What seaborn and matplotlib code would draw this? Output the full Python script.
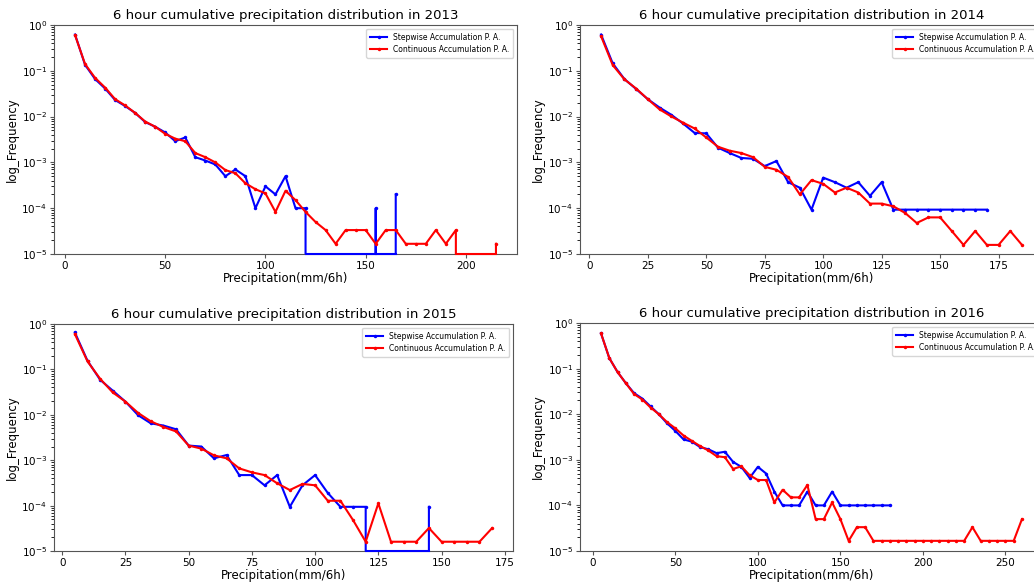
import numpy as np
import matplotlib
matplotlib.use("Agg")
import matplotlib.pyplot as plt
import seaborn as sns

YMIN, YMAX = 1e-5, 1.0

years = [2013, 2014, 2015, 2016]

# Stepwise accumulation (blue) frequencies, bins every 5 mm starting at 5
step_2013 = [0.62, 0.135, 0.066, 0.041, 0.023, 0.017, 0.012, 0.0076, 0.006, 0.0045,
             0.0029, 0.0035, 0.0013, 0.0011, 0.0009, 0.0005, 0.0007, 0.0005, 0.0001, 0.0003,
             0.0002, 0.0005, 0.0001, 0.0001, 0, 0, 0, 0, 0, 0, 0.0001, 0, 0.0002]
cont_2013 = [0.6, 0.14, 0.07, 0.043, 0.024, 0.0175, 0.012, 0.0078, 0.006, 0.0042,
             0.0033, 0.0029, 0.0016, 0.0013, 0.001, 0.00068, 0.00058, 0.00035, 0.00026, 0.00021,
             8.3e-5, 0.00024, 0.00015, 8.3e-5, 5e-5, 3.33e-5, 1.67e-5, 3.33e-5, 3.33e-5, 3.33e-5,
             1.67e-5, 3.33e-5, 3.33e-5, 1.67e-5, 1.67e-5, 1.67e-5, 3.33e-5, 1.67e-5, 3.33e-5,
             0, 0, 0, 1.67e-5]

step_2014 = [0.62, 0.145, 0.066, 0.04, 0.024, 0.0158, 0.011, 0.0071, 0.0044, 0.0043,
             0.0021, 0.0016, 0.00125, 0.0012, 0.00083, 0.00107, 0.00037, 0.00028, 9.3e-5, 0.000465,
             0.00037, 0.00028, 0.00037, 0.000186, 0.00037, 9.3e-5] + [9.3e-5] * 8
cont_2014 = [0.57, 0.133, 0.065, 0.041, 0.024, 0.0144, 0.0101, 0.0074, 0.0055, 0.0035,
             0.0022, 0.0018, 0.0016, 0.0013, 0.0008, 0.00069, 0.00048, 0.0002, 0.00041, 0.00034,
             0.00022, 0.00028, 0.00022, 0.000126, 0.000126, 0.00011, 7.9e-5, 4.75e-5, 6.3e-5, 6.3e-5,
             3.17e-5, 1.58e-5, 3.17e-5, 1.58e-5, 1.58e-5, 3.17e-5, 1.58e-5]

step_2015 = [0.65, 0.155, 0.059, 0.034, 0.0195, 0.0098, 0.0065, 0.0058, 0.0048, 0.0021,
             0.002, 0.0011, 0.0013, 0.00047, 0.00047, 0.00028, 0.00047, 9.4e-5, 0.00028, 0.00047,
             0.00019, 9.4e-5, 9.4e-5, 9.4e-5, 0, 0, 0, 0, 9.4e-5]
cont_2015 = [0.6, 0.15, 0.062, 0.031, 0.0195, 0.011, 0.0072, 0.0054, 0.0043, 0.0021,
             0.0018, 0.00128, 0.0011, 0.00066, 0.00054, 0.00047, 0.00031, 0.00022, 0.0003, 0.00028,
             0.000128, 0.000128, 4.8e-5, 1.6e-5, 1.12e-4, 1.6e-5, 1.6e-5, 1.6e-5, 3.2e-5, 1.6e-5,
             1.6e-5, 1.6e-5, 1.6e-5, 3.2e-5]

step_2016 = [0.59, 0.17, 0.084, 0.048, 0.029, 0.022, 0.0148, 0.01, 0.0063, 0.0043,
             0.0028, 0.0025, 0.0019, 0.0017, 0.0014, 0.0015, 0.0009, 0.0007, 0.0004, 0.0007,
             0.0005, 0.0002, 0.0001, 0.0001, 0.0001, 0.0002, 0.0001, 0.0001, 0.0002] + [0.0001] * 7
cont_2016 = [0.59, 0.17, 0.084, 0.048, 0.0277, 0.021, 0.014, 0.01, 0.0067, 0.0049,
             0.0034, 0.0026, 0.002, 0.0016, 0.0012, 0.00114, 0.00063, 0.00072, 0.00046, 0.00036,
             0.00036, 0.000116, 0.00022, 0.00015, 0.00015, 0.00028, 5e-5, 5e-5, 0.000116, 5e-5,
             1.67e-5, 3.33e-5, 3.33e-5] + [1.67e-5] * 12 + [3.33e-5] + [1.67e-5] * 5 + [5e-5]

step_series = [step_2013, step_2014, step_2015, step_2016]
cont_series = [cont_2013, cont_2014, cont_2015, cont_2016]

BIN = 5
xlabel = "Precipitation(mm/6h)"
ylabel = "log_Frequency"
label_step = "Stepwise Accumulation P. A."
label_cont = "Continuous Accumulation P. A."

W, H = 1034, 583
fig = plt.figure(figsize=(W / 100, H / 100), dpi=100)

# axes rectangles in pixels: left, top, width, height
rects = [(54, 25, 463, 229), (580, 25, 463, 229),
         (54, 324, 459, 227), (580, 323, 463, 228)]


def bins(n):
    return np.arange(1, n + 1) * BIN


def zero_runs(x, y):
    """Return (x_start, x_end) of runs of zero values, bounded by the neighbouring nonzero bins."""
    runs = []
    i = 0
    n = len(y)
    while i < n:
        if y[i] <= 0:
            j = i
            while j < n and y[j] <= 0:
                j += 1
            a = x[i - 1] if i > 0 else x[i]
            b = x[j] if j < n else x[j - 1]
            runs.append((a, b))
            i = j
        else:
            i += 1
    return runs


def draw(ax, vals, color, label):
    y = np.array(vals, dtype=float)
    x = bins(len(y))
    sns.lineplot(x=x, y=y, ax=ax, color=color, marker=".", markersize=5,
                 markeredgewidth=0, linewidth=1.5, label=label)
    for a, b in zero_runs(x, y):
        sns.lineplot(x=[a, b], y=[YMIN, YMIN], ax=ax, color=color, linewidth=1.5,
                     clip_on=False, zorder=3, legend=False)


for i, yr in enumerate(years):
    l, t, w, h = rects[i]
    ax = fig.add_axes([l / W, 1 - (t + h) / H, w / W, h / H])
    draw(ax, step_series[i], "#0000ff", label_step)
    draw(ax, cont_series[i], "#ff0000", label_cont)
    ax.set_yscale("log")
    ax.set_ylim(YMIN, YMAX)
    ax.set_title(f"6 hour cumulative precipitation distribution in {yr}", fontsize=9.5, pad=4)
    ax.set_xlabel(xlabel, fontsize=8.5, labelpad=1)
    ax.set_ylabel(ylabel, fontsize=8.5, labelpad=2)
    ax.tick_params(labelsize=7.5, length=3, pad=2, color="#555555")
    for sp in ax.spines.values():
        sp.set_color("#555555")
    ax.legend(loc="upper right", fontsize=5.5, handlelength=2.2, borderpad=0.5,
              labelspacing=0.4)

fig.savefig("out.png", dpi=100)
